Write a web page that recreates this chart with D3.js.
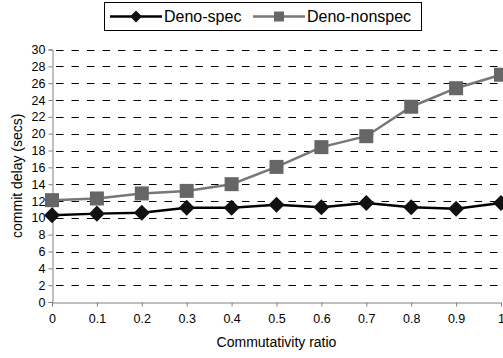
<!DOCTYPE html>
<meta charset="utf-8">
<style>
html, body { margin: 0; overflow: hidden; background: #fff; }
text { font-family: "Liberation Sans", Arial, sans-serif; }
</style>
<body>
<script src="https://cdn.jsdelivr.net/npm/d3@7"></script>
<script>

var width = 503,
  height = 358;

// data
var ratios = [0, 0.1, 0.2, 0.3, 0.4, 0.5, 0.6, 0.7, 0.8, 0.9, 1];
var specDelay = [10.3, 10.5, 10.6, 11.2, 11.2, 11.55, 11.27, 11.75, 11.27, 11.07, 11.75];
var nonspecDelay = [12.1, 12.3, 12.9, 13.2, 14.0, 16.05, 18.4, 19.7, 23.2, 25.4, 27.0];
var yTicks = d3.range(0, 31, 2);
var seriesNames = ["Deno-spec", "Deno-nonspec"];

var x = d3.scaleLinear().domain([0, 1]).range([52, 501]);
var y = d3.scaleLinear().domain([0, 30]).range([302, 49.5]);

var svg = d3.select("body").append("svg")
  .attr("width", width)
  .attr("height", height);

// dashed gridlines
svg.append("g").selectAll("line")
  .data(yTicks.filter(function(d) { return d > 0; }))
  .enter().append("line")
  .attr("x1", x(0) + 4).attr("x2", width)
  .attr("y1", function(d) { return Math.round(y(d)) + 0.5; })
  .attr("y2", function(d) { return Math.round(y(d)) + 0.5; })
  .attr("stroke", "#000")
  .attr("stroke-dasharray", "7.5,8");

// axes
var yAxis = svg.append("g")
  .attr("transform", "translate(" + (x(0) + 0.5) + ",0)")
  .call(d3.axisLeft(y).tickValues(yTicks).tickSize(4).tickPadding(3));
var xAxis = svg.append("g")
  .attr("transform", "translate(0," + (Math.round(y(0)) + 0.5) + ")")
  .call(d3.axisBottom(x).tickValues(ratios).tickSize(4).tickPadding(8)
    .tickFormat(function(d) { return d3.format("")(d); }));

[yAxis, xAxis].forEach(function(a) {
  a.select(".domain").attr("stroke", "#808080");
  a.selectAll(".tick line").attr("stroke", "#808080");
  a.selectAll("text")
    .attr("font-family", "Liberation Sans, Arial, sans-serif")
    .attr("font-size", 12.5)
    .attr("fill", "#000");
});

svg.append("text")
  .attr("x", x(0.5)).attr("y", 347)
  .attr("text-anchor", "middle")
  .attr("font-size", 14)
  .text("Commutativity ratio");

svg.append("text")
  .attr("transform", "translate(22," + y(15) + ") rotate(-90)")
  .attr("text-anchor", "middle")
  .attr("font-size", 14)
  .text("commit delay (secs)");

var line = d3.line()
  .x(function(d, i) { return x(ratios[i]); })
  .y(function(d) { return y(d); });

var diamond = d3.symbol().type(d3.symbolSquare).size(128);
var square = d3.symbol().type(d3.symbolSquare).size(196);

// nonspec series
svg.append("path")
  .datum(nonspecDelay)
  .attr("d", line)
  .attr("fill", "none")
  .attr("stroke", "#777")
  .attr("stroke-width", 2.5);
svg.append("g").selectAll("path")
  .data(nonspecDelay)
  .enter().append("path")
  .attr("d", square)
  .attr("transform", function(d, i) { return "translate(" + x(ratios[i]) + "," + y(d) + ")"; })
  .attr("fill", "#666");

// spec series
svg.append("path")
  .datum(specDelay)
  .attr("d", line)
  .attr("fill", "none")
  .attr("stroke", "#000")
  .attr("stroke-width", 2.5);
svg.append("g").selectAll("path")
  .data(specDelay)
  .enter().append("path")
  .attr("d", diamond)
  .attr("transform", function(d, i) { return "translate(" + x(ratios[i]) + "," + y(d) + ") rotate(45)"; })
  .attr("fill", "#111");

// legend
var legend = svg.append("g");
legend.append("rect")
  .attr("x", 104.5).attr("y", 2.5)
  .attr("width", 317).attr("height", 28)
  .attr("fill", "#fff")
  .attr("stroke", "#000");

var legendItems = [
  { name: seriesNames[0], x0: 110, color: "#000", fill: "#111", rot: 45, size: 72, tx: 164 },
  { name: seriesNames[1], x0: 253, color: "#777", fill: "#666", rot: 0, size: 100, tx: 307 }
];
legendItems.forEach(function(it) {
  legend.append("line")
    .attr("x1", it.x0).attr("x2", it.x0 + 52)
    .attr("y1", 16.5).attr("y2", 16.5)
    .attr("stroke", it.color).attr("stroke-width", 2.5);
  legend.append("path")
    .attr("d", d3.symbol().type(d3.symbolSquare).size(it.size)())
    .attr("transform", "translate(" + (it.x0 + 26) + ",16.5) rotate(" + it.rot + ")")
    .attr("fill", it.fill);
  legend.append("text")
    .attr("x", it.tx).attr("y", 22)
    .attr("font-size", 16)
    .text(it.name);
});

</script>
</body>
